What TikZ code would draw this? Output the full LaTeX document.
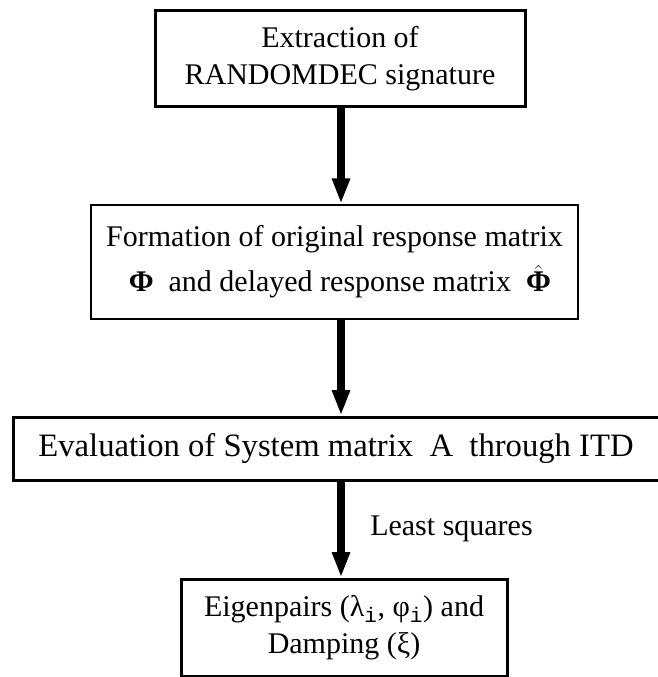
\documentclass[tikz,border=0pt]{standalone}
\usepackage{fontspec}
\setmainfont{Liberation Serif}
\setmonofont{Liberation Mono}
\usetikzlibrary{arrows.meta}
\newcommand{\bPhi}{\hbox{\bfseries Φ}}
\newcommand{\sub}[1]{\textsubscript{\ttfamily #1}}
\begin{document}
\begin{tikzpicture}[x=0.75pt,y=-0.75pt,
  stage/.style={draw=black, line width=2.25pt, inner sep=0pt, align=center,
    font=\fontsize{22.5}{27.75}\selectfont},
  flow/.style={line width=5.3pt, -{Triangle[length=19pt,width=12.5pt]}},
  lbl/.style={inner sep=0pt, font=\fontsize{22.5}{27.75}\selectfont}]
\useasboundingbox (0,0) rectangle (657,677);
\coordinate (spine) at (341,0);

\node[stage, minimum width=277.5pt, minimum height=72pt] (b1) at (340,59)
  {Extraction of\\RANDOMDEC signature};
\node[stage, line width=1.8pt, minimum width=365.25pt, minimum height=85.5pt] (b2) at (334.5,262)
  {Formation of original response matrix\\[6pt]
   \hspace*{8pt}$\bPhi$\ \ and delayed response matrix\ \ $\hat{\bPhi}$};
\node[stage, minimum width=484.5pt, minimum height=47.25pt,
  font=\fontsize{24.5}{29}\selectfont] (b3) at (336,448.5)
  {Evaluation of System matrix\ \ A\ \ through ITD};
\node[stage, minimum width=244.5pt, minimum height=72.75pt] (b4) at (344,627.5)
  {Eigenpairs (λ\sub{i}, φ\sub{i}) and\\Damping (ξ)};

\draw[flow] (b1.south -| spine) -- (b2.north -| spine);
\draw[flow] (b2.south -| spine) -- (b3.north -| spine);
\draw[flow] (b3.south -| spine) -- (b4.north -| spine);

\node[lbl, anchor=base west] (ls) at (370,535) {Least squares};
\end{tikzpicture}
\end{document}
